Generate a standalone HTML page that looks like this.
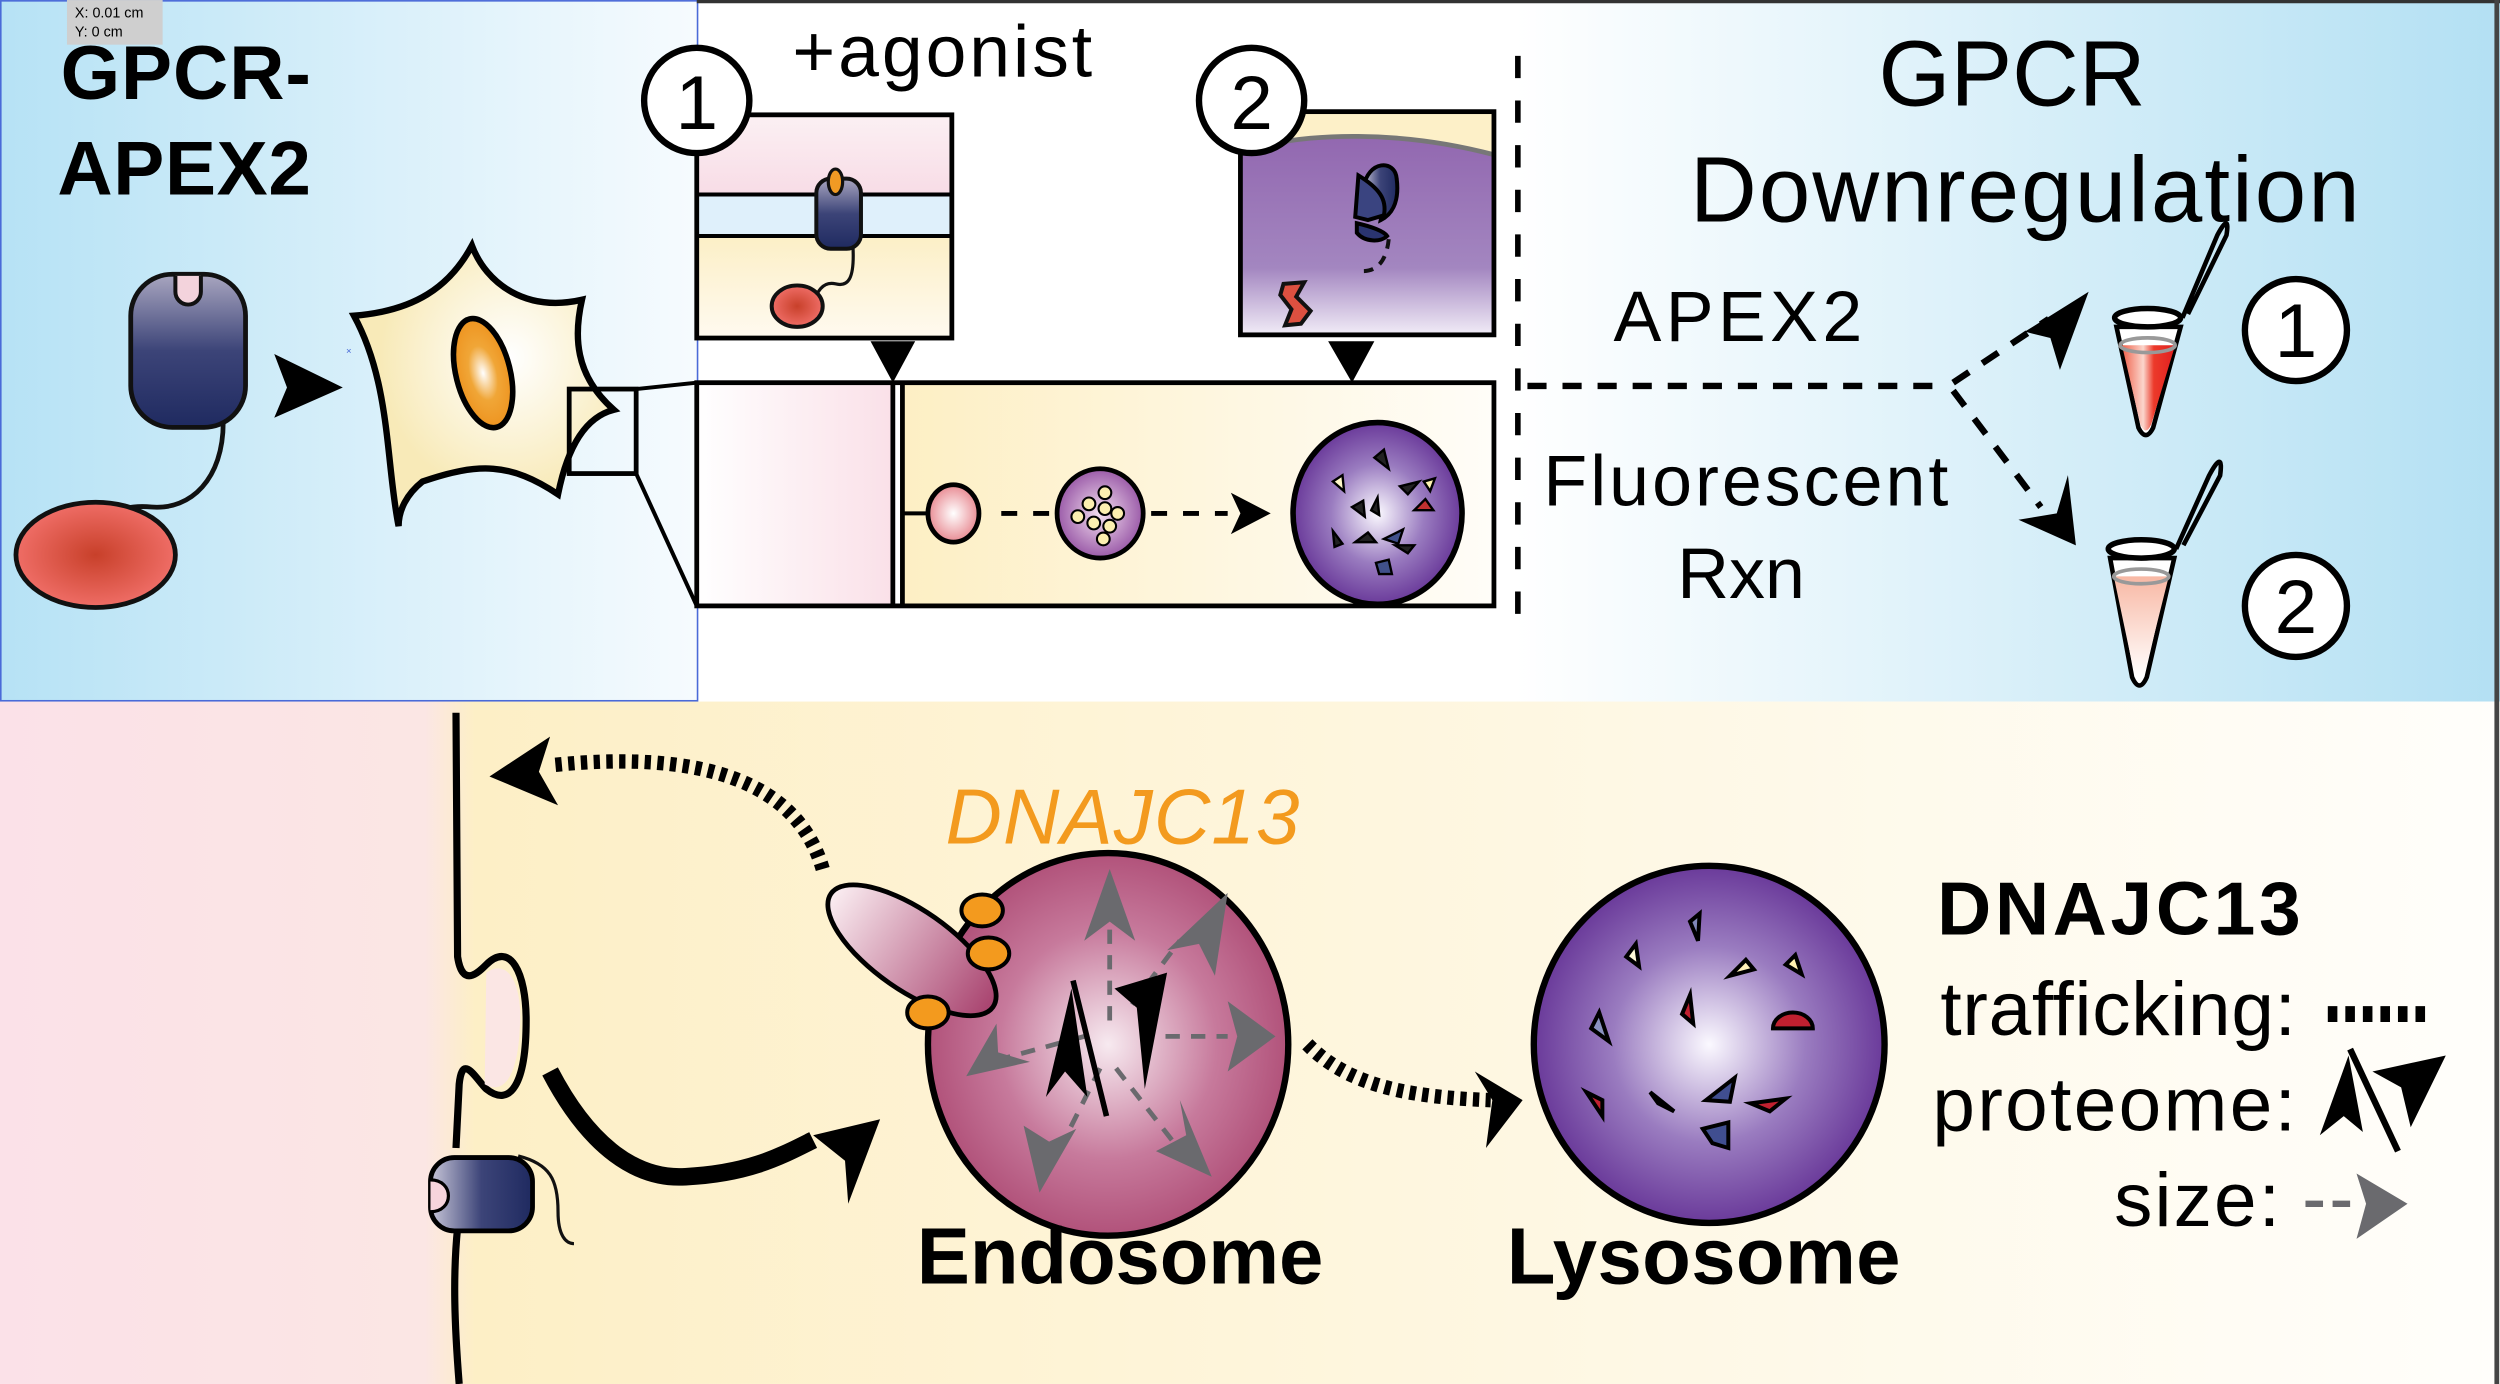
<!DOCTYPE html>
<html><head><meta charset="utf-8"><style>
html,body{margin:0;padding:0;background:#fff}
svg{display:block}
text{font-family:"Liberation Sans",Arial,sans-serif}
</style></head><body>
<svg width="2500" height="1384" viewBox="0 0 1568 868" xmlns="http://www.w3.org/2000/svg">
<defs>
<linearGradient id="lb" x1="0" x2="1"><stop offset="0" stop-color="#b6e2f5"/><stop offset="1" stop-color="#f6fbfe"/></linearGradient>
<linearGradient id="rb" x1="0" x2="1"><stop offset="0" stop-color="#ffffff"/><stop offset="1" stop-color="#b3e0f3"/></linearGradient>
<linearGradient id="bot" x1="0" x2="1"><stop offset="0" stop-color="#fbe1e8"/><stop offset="0.17" stop-color="#fbe6e4"/><stop offset="0.19" stop-color="#fdefc6"/><stop offset="0.55" stop-color="#fef6de"/><stop offset="1" stop-color="#fffefb"/></linearGradient>
<linearGradient id="navy" x1="0" y1="0" x2="0" y2="1"><stop offset="0" stop-color="#a9a6c0"/><stop offset="0.5" stop-color="#3c4478"/><stop offset="1" stop-color="#1f2a60"/></linearGradient>
<linearGradient id="navyh" x1="0" x2="1"><stop offset="0" stop-color="#c8c6d8"/><stop offset="0.5" stop-color="#3c4478"/><stop offset="1" stop-color="#1f2a60"/></linearGradient>
<radialGradient id="red"><stop offset="0" stop-color="#c8402a"/><stop offset="1" stop-color="#ef6d66"/></radialGradient>
<radialGradient id="cell" cx="0.6" cy="0.4"><stop offset="0" stop-color="#ffffff"/><stop offset="1" stop-color="#f8eab8"/></radialGradient>
<radialGradient id="nuc"><stop offset="0" stop-color="#fff"/><stop offset="0.5" stop-color="#f0a637"/><stop offset="1" stop-color="#ee9420"/></radialGradient>
<radialGradient id="endo"><stop offset="0" stop-color="#f7eaf0"/><stop offset="0.6" stop-color="#c77a9c"/><stop offset="1" stop-color="#b1527a"/></radialGradient>
<radialGradient id="lyso"><stop offset="0" stop-color="#fbf9ff"/><stop offset="0.55" stop-color="#9a7cc0"/><stop offset="1" stop-color="#6a3a9a"/></radialGradient>
<radialGradient id="pinkb"><stop offset="0" stop-color="#fff"/><stop offset="1" stop-color="#e88a92"/></radialGradient>
<radialGradient id="vesic"><stop offset="0" stop-color="#f4e0f0"/><stop offset="1" stop-color="#9a5aa8"/></radialGradient>
<linearGradient id="lobe" x1="0" x2="1"><stop offset="0" stop-color="#fbeef2"/><stop offset="1" stop-color="#a8426e"/></linearGradient>
<linearGradient id="ins1" x1="0" y1="0" x2="0" y2="1"><stop offset="0" stop-color="#fbf0f3"/><stop offset="1" stop-color="#f8dce6"/></linearGradient>
<linearGradient id="ins1y" x1="0" y1="0" x2="0" y2="1"><stop offset="0" stop-color="#fcefc6"/><stop offset="1" stop-color="#fffaf0"/></linearGradient>
<linearGradient id="ins2" x1="0" y1="0" x2="0" y2="1"><stop offset="0" stop-color="#8f62ad"/><stop offset="0.7" stop-color="#a386c0"/><stop offset="1" stop-color="#f1ecf7"/></linearGradient>
<linearGradient id="bxp" x1="0" x2="1"><stop offset="0" stop-color="#fff"/><stop offset="1" stop-color="#fae0e8"/></linearGradient>
<linearGradient id="bxy" x1="0" x2="1"><stop offset="0" stop-color="#fdefc4"/><stop offset="1" stop-color="#fffdf8"/></linearGradient>
<linearGradient id="tube1" x1="0" x2="1"><stop offset="0" stop-color="#f0604a"/><stop offset="0.4" stop-color="#fbd6cc"/><stop offset="0.6" stop-color="#ec3a2a"/><stop offset="1" stop-color="#e02020"/></linearGradient>
<linearGradient id="tube2" x1="0" y1="0" x2="0" y2="1"><stop offset="0" stop-color="#f8b8a4"/><stop offset="1" stop-color="#fff"/></linearGradient>
</defs>

<rect x="0" y="0" width="1568" height="868" fill="#fff"/>
<rect x="0" y="0" width="437" height="440" fill="url(#lb)"/>
<rect x="950" y="0" width="618" height="440" fill="url(#rb)"/>
<rect x="0" y="440" width="1568" height="428" fill="url(#bot)"/>
<rect x="0.5" y="0.5" width="437" height="439" fill="none" stroke="#4a6ad8" stroke-width="1"/>
<line x1="437" y1="1" x2="1568" y2="1" stroke="#333" stroke-width="2"/>
<line x1="1566" y1="0" x2="1566" y2="868" stroke="#444" stroke-width="3"/>
<rect x="42" y="0" width="60" height="28" fill="#cfcfcf"/>
<text x="47" y="11" font-size="9">X: 0.01 cm</text>
<text x="47" y="23" font-size="9">Y: 0 cm</text>

<text x="38" y="62" font-size="48" font-weight="bold" textLength="157">GPCR-</text>
<text x="36" y="122" font-size="48" font-weight="bold" textLength="159">APEX2</text>

<path d="M140 265 C140 300 120 320 95 318 C75 316 68 325 62 316" fill="none" stroke="#111" stroke-width="3"/>
<rect x="82" y="172" width="72" height="96" rx="26" fill="url(#navy)" stroke="#111" stroke-width="3"/>
<path d="M110 173 L110 183 A8 8 0 0 0 126 183 L126 173" fill="#f3d3dc" stroke="#111" stroke-width="2.5"/>
<ellipse cx="60" cy="348" rx="50" ry="33" fill="url(#red)" stroke="#111" stroke-width="3"/>
<polygon points="172,222 215,243 172,262 180,243" fill="#000"/>
<text x="217" y="222" font-size="6" fill="#4a6ad8">×</text>

<path d="M222 198 C260 195 282 180 296 154 C305 178 330 196 365 188 C360 210 360 235 385 257 C365 262 355 285 350 310 C320 290 300 290 265 302 C255 310 250 320 250 330 C242 290 245 240 222 198 Z" fill="url(#cell)" stroke="#000" stroke-width="4"/>
<ellipse cx="303" cy="234" rx="17" ry="35" transform="rotate(-14 303 234)" fill="url(#nuc)" stroke="#000" stroke-width="3.5"/>
<rect x="357" y="244" width="42" height="53" fill="none" stroke="#000" stroke-width="3"/>
<line x1="399" y1="244" x2="437" y2="240" stroke="#000" stroke-width="2.5"/>
<line x1="399" y1="297" x2="437" y2="380" stroke="#000" stroke-width="2.5"/>

<rect x="437" y="240" width="123" height="140" fill="url(#bxp)"/>
<rect x="567" y="240" width="370" height="140" fill="url(#bxy)"/>
<rect x="437" y="240" width="500" height="140" fill="none" stroke="#000" stroke-width="3"/>
<line x1="560" y1="240" x2="560" y2="380" stroke="#000" stroke-width="3"/>
<line x1="566" y1="240" x2="566" y2="380" stroke="#000" stroke-width="3"/>
<line x1="567" y1="322" x2="582" y2="322" stroke="#000" stroke-width="2.5"/>
<ellipse cx="598" cy="322" rx="16" ry="18" fill="url(#pinkb)" stroke="#000" stroke-width="3"/>
<line x1="628" y1="322" x2="660" y2="322" stroke="#000" stroke-width="3" stroke-dasharray="10 10"/>
<ellipse cx="690" cy="322" rx="27" ry="28" fill="url(#vesic)" stroke="#000" stroke-width="3"/>
<g fill="#fcefb0" stroke="#000" stroke-width="1.3">
<circle cx="693" cy="309" r="4"/><circle cx="683" cy="316" r="4"/><circle cx="693" cy="319" r="4"/><circle cx="701" cy="322" r="4"/><circle cx="676" cy="324" r="4"/><circle cx="686" cy="328" r="4"/><circle cx="696" cy="330" r="4"/><circle cx="692" cy="338" r="4"/>
</g>
<line x1="722" y1="322" x2="770" y2="322" stroke="#000" stroke-width="3" stroke-dasharray="10 10"/>
<polygon points="772,309 797,322 772,335 778,322" fill="#000"/>
<ellipse cx="864" cy="322" rx="53" ry="57" fill="url(#lyso)" stroke="#000" stroke-width="3.5"/>
<g fill="#222" stroke="#000" stroke-width="1.5">
<path d="M862 287 l6 -5 l3 12 z"/><path d="M836 302 l6 -4 l1 10 z" fill="#fff8c8"/><path d="M848 318 l7 -4 l1 10 z"/><path d="M878 305 l12 -3 l-7 8 z"/><path d="M893 302 l7 -2 l-3 8 z" fill="#fff4b0"/><path d="M887 320 l12 0 l-5 -7 z" fill="#c03030"/><path d="M860 320 l4 -8 l1 11 z"/><path d="M836 333 l6 8 l-5 2 z"/><path d="M850 340 l8 -6 l5 6 z"/><path d="M868 338 l12 -6 l-3 9 z" fill="#40508a"/><path d="M875 342 l12 0 l-4 5 z"/><path d="M863 353 l8 -2 l2 9 l-8 0 z" fill="#40508a"/>
</g>

<rect x="437" y="72" width="160" height="50" fill="url(#ins1)"/>
<rect x="437" y="122" width="160" height="26" fill="#dff0fb"/>
<rect x="437" y="148" width="160" height="64" fill="url(#ins1y)"/>
<line x1="437" y1="122" x2="597" y2="122" stroke="#000" stroke-width="2.5"/>
<line x1="437" y1="148" x2="597" y2="148" stroke="#000" stroke-width="2.5"/>
<path d="M535 155 C536 175 532 180 524 178 C515 176 512 185 510 190" fill="none" stroke="#111" stroke-width="2"/>
<ellipse cx="500" cy="192" rx="16" ry="13" fill="url(#red)" stroke="#111" stroke-width="2.5"/>
<rect x="512" y="112" width="28" height="44" rx="9" fill="url(#navy)" stroke="#111" stroke-width="2.5"/>
<ellipse cx="524" cy="114" rx="4.5" ry="8" fill="#f09a24" stroke="#111" stroke-width="2"/>
<rect x="437" y="72" width="160" height="140" fill="none" stroke="#000" stroke-width="3"/>
<polygon points="546,214 574,214 560,240" fill="#000"/>
<circle cx="437" cy="63" r="33" fill="#fff" stroke="#000" stroke-width="4"/>
<text x="437" y="81" font-size="48" text-anchor="middle">1</text>
<text x="497" y="48" font-size="46" textLength="188">+agonist</text>

<rect x="778" y="70" width="159" height="140" fill="url(#ins2)"/>
<path d="M778 70 L937 70 L937 97 C880 82 820 82 778 95 Z" fill="#fdf0c8"/>
<path d="M778 95 C820 82 880 82 937 97" fill="none" stroke="#777" stroke-width="3"/>
<path d="M855 118 C858 100 875 100 876 112 C878 128 872 135 866 138 C868 128 860 122 855 118 Z" fill="url(#navyh)" stroke="#000" stroke-width="2.5"/>
<path d="M852 110 C865 118 870 125 868 135 L858 138 L850 136 Z" fill="#3a4480" stroke="#000" stroke-width="2.5"/>
<path d="M851 140 C860 142 868 145 870 148 C866 152 856 152 851 146 Z" fill="#2a3470" stroke="#000" stroke-width="2.5"/>
<path d="M871 150 C870 160 866 170 855 170" fill="none" stroke="#111" stroke-width="2.5" stroke-dasharray="6 5"/>
<path d="M805 178 L818 177 L813 186 L822 195 L816 203 L806 204 L810 194 L803 185 Z" fill="#dd5040" stroke="#111" stroke-width="2.5"/>
<rect x="778" y="70" width="159" height="140" fill="none" stroke="#000" stroke-width="3"/>
<polygon points="833,214 862,214 848,240" fill="#000"/>
<circle cx="785" cy="63" r="33" fill="#fff" stroke="#000" stroke-width="4"/>
<text x="785" y="81" font-size="48" text-anchor="middle">2</text>

<line x1="952" y1="35" x2="952" y2="385" stroke="#000" stroke-width="3.5" stroke-dasharray="14 14"/>
<text x="1262" y="66" font-size="58" text-anchor="middle">GPCR</text>
<text x="1270" y="139" font-size="58" text-anchor="middle" textLength="420">Downregulation</text>
<text x="1012" y="214" font-size="45" textLength="156">APEX2</text>
<text x="968" y="317" font-size="45" textLength="254">Fluorescent</text>
<text x="1052" y="375" font-size="45">Rxn</text>
<path d="M958 242 L1222 242" stroke="#000" stroke-width="4" stroke-dasharray="12 10"/>
<path d="M1225 240 L1285 200" stroke="#000" stroke-width="4" stroke-dasharray="12 10"/>
<polygon points="1310,183 1292,232 1286,212 1270,208" fill="#000"/>
<path d="M1225 245 L1280 318" stroke="#000" stroke-width="4" stroke-dasharray="12 10"/>
<polygon points="1302,342 1297,298 1290,322 1266,326" fill="#000"/>
<g transform="translate(1347 205) scale(1.15) translate(-1347 -205)">
<path d="M1330 205 L1342 260 Q1346 268 1350 260 L1365 205 Z" fill="#fff" stroke="#000" stroke-width="2.5"/>
<path d="M1333 215 L1343 258 Q1346 265 1349 258 L1362 215 Z" fill="url(#tube1)"/>
<ellipse cx="1347" cy="215" rx="15" ry="4" fill="none" stroke="#999" stroke-width="2"/>
<ellipse cx="1347" cy="200" rx="18" ry="5" fill="#fff" stroke="#000" stroke-width="3"/>
<path d="M1366 200 L1385 155 Q1392 142 1390 155 L1369 198" fill="none" stroke="#000" stroke-width="2.5"/>
</g>
<circle cx="1440" cy="207" r="32" fill="#fff" stroke="#000" stroke-width="4"/>
<text x="1440" y="224" font-size="48" text-anchor="middle">1</text>
<g transform="translate(1343 350) scale(1.15) translate(-1343 -350)">
<path d="M1326 350 L1338 415 Q1342 424 1346 415 L1361 350 Z" fill="#fff" stroke="#000" stroke-width="2.5"/>
<path d="M1328 360 L1339 412 Q1342 418 1345 412 L1358 360 Z" fill="url(#tube2)"/>
<ellipse cx="1343" cy="360" rx="15" ry="4" fill="none" stroke="#999" stroke-width="2"/>
<ellipse cx="1343" cy="345" rx="18" ry="5" fill="#fff" stroke="#000" stroke-width="3"/>
<path d="M1362 345 L1380 305 Q1388 290 1386 305 L1366 343" fill="none" stroke="#000" stroke-width="2.5"/>
</g>
<circle cx="1440" cy="380" r="32" fill="#fff" stroke="#000" stroke-width="4"/>
<text x="1440" y="397" font-size="48" text-anchor="middle">2</text>

<path d="M286 447 L287 600 C290 620 300 610 305 605 C320 590 330 610 330 640 C330 680 320 695 305 683 C298 676 290 660 288 680 L286 720" fill="none" stroke="#000" stroke-width="4.5"/>
<path d="M305 610 C320 600 328 620 326 645 C325 670 318 688 304 680" fill="#fbe6e4" stroke="none"/>
<path d="M287 770 C284 800 285 830 288 868" fill="none" stroke="#000" stroke-width="4.5"/>
<path d="M325 725 C345 730 350 740 350 760 C350 775 355 780 360 780" fill="none" stroke="#111" stroke-width="2"/>
<rect x="270" y="726" width="64" height="46" rx="15" fill="url(#navyh)" stroke="#000" stroke-width="3"/>
<path d="M270 740 C285 740 285 760 270 760" fill="#f6d4dc" stroke="#000" stroke-width="2"/>
<path d="M345 672 C370 720 400 740 430 738 C470 736 490 725 510 715" fill="none" stroke="#000" stroke-width="11"/>
<polygon points="552,702 532,755 530,728 510,712" fill="#000"/>
<path d="M516 545 C500 490 440 470 345 480" fill="none" stroke="#000" stroke-width="9" stroke-dasharray="4 4"/>
<polygon points="307,487 345,462 338,484 350,505" fill="#000"/>
<text x="593" y="529" font-size="49" font-style="italic" fill="#f39a1e" textLength="222">DNAJC13</text>

<ellipse cx="695" cy="655" rx="113" ry="120" fill="url(#endo)" stroke="#000" stroke-width="4"/>
<ellipse cx="572" cy="596" rx="62" ry="25" transform="rotate(35 572 596)" fill="url(#lobe)" stroke="#000" stroke-width="3"/>
<ellipse cx="616" cy="571" rx="13" ry="10" fill="#f39a1e" stroke="#000" stroke-width="2.5"/>
<ellipse cx="620" cy="598" rx="13" ry="10" fill="#f39a1e" stroke="#000" stroke-width="2.5"/>
<ellipse cx="582" cy="635" rx="13" ry="10" fill="#f39a1e" stroke="#000" stroke-width="2.5"/>
<g stroke="#6a6a6e" stroke-width="3" stroke-dasharray="9 7" fill="none">
<line x1="696" y1="640" x2="696" y2="570"/><line x1="710" y1="630" x2="740" y2="590"/><line x1="715" y1="650" x2="770" y2="650"/><line x1="700" y1="670" x2="735" y2="715"/><line x1="690" y1="670" x2="665" y2="720"/><line x1="680" y1="650" x2="625" y2="665"/>
</g>
<g fill="#6a6a6e">
<polygon points="696,545 712,590 696,578 680,590"/><polygon points="770,560 762,612 752,592 732,596"/><polygon points="800,650 770,672 776,650 770,628"/><polygon points="760,738 725,722 744,712 740,690"/><polygon points="652,748 642,706 658,716 675,708"/><polygon points="606,675 625,642 626,660 646,666"/>
</g>
<polygon points="656,688 672,620 682,688 668,672" fill="#000"/>
<line x1="673" y1="615" x2="694" y2="700" stroke="#000" stroke-width="3.5"/>
<polygon points="699,620 732,610 718,683 713,632" fill="#000"/>

<path d="M820 655 C845 680 880 688 935 690" fill="none" stroke="#000" stroke-width="9" stroke-dasharray="4 4"/>
<polygon points="955,690 932,720 936,690 925,672" fill="#000"/>

<ellipse cx="1072" cy="655" rx="110" ry="112" fill="url(#lyso)" stroke="#000" stroke-width="4"/>
<g stroke="#000" stroke-width="2.5">
<path d="M1060 578 l6 -5 l-1 17 z" fill="#8088b8"/><path d="M1020 600 l6 -8 l2 14 z" fill="#fff8d8"/><path d="M1085 612 l10 -10 l5 6 z" fill="#fff0b8"/><path d="M1120 605 l6 -6 l4 12 z" fill="#fff0b0"/><path d="M1055 636 l5 -12 l2 18 z" fill="#c02030"/><path d="M1112 645 a10 8 0 0 1 25 0 z" fill="#c02030"/><path d="M998 645 l5 -10 l6 18 z" fill="#8a92c0"/><path d="M995 685 l10 5 l0 10 z" fill="#c02030"/><path d="M1035 685 l15 12 l-10 -5 z" fill="#fff"/><path d="M1070 690 l18 -14 l-3 15 z" fill="#404e90"/><path d="M1098 692 l22 -3 l-10 8 z" fill="#c02030"/><path d="M1068 708 l16 -4 l0 16 l-10 -3 z" fill="#404e90"/>
</g>

<text x="575" y="805" font-size="50" font-weight="bold" textLength="255">Endosome</text>
<text x="945" y="805" font-size="50" font-weight="bold" textLength="247">Lysosome</text>

<text x="1215" y="586" font-size="47" font-weight="bold" textLength="228">DNAJC13</text>
<text x="1217" y="649" font-size="48" textLength="223">trafficking:</text>
<line x1="1460" y1="636" x2="1524" y2="636" stroke="#000" stroke-width="10" stroke-dasharray="6 5"/>
<text x="1212" y="709" font-size="48" textLength="228">proteome:</text>
<polygon points="1455,712 1473,662 1482,710 1470,700" fill="#000"/>
<line x1="1474" y1="658" x2="1504" y2="722" stroke="#000" stroke-width="4"/>
<polygon points="1488,672 1534,662 1512,707 1506,682" fill="#000"/>
<text x="1326" y="769" font-size="48" textLength="104">size:</text>
<line x1="1446" y1="755" x2="1478" y2="755" stroke="#6a6a6e" stroke-width="4" stroke-dasharray="11 6"/>
<polygon points="1510,755 1478,736 1484,755 1478,777" fill="#6a6a6e"/>
</svg>
</body></html>
